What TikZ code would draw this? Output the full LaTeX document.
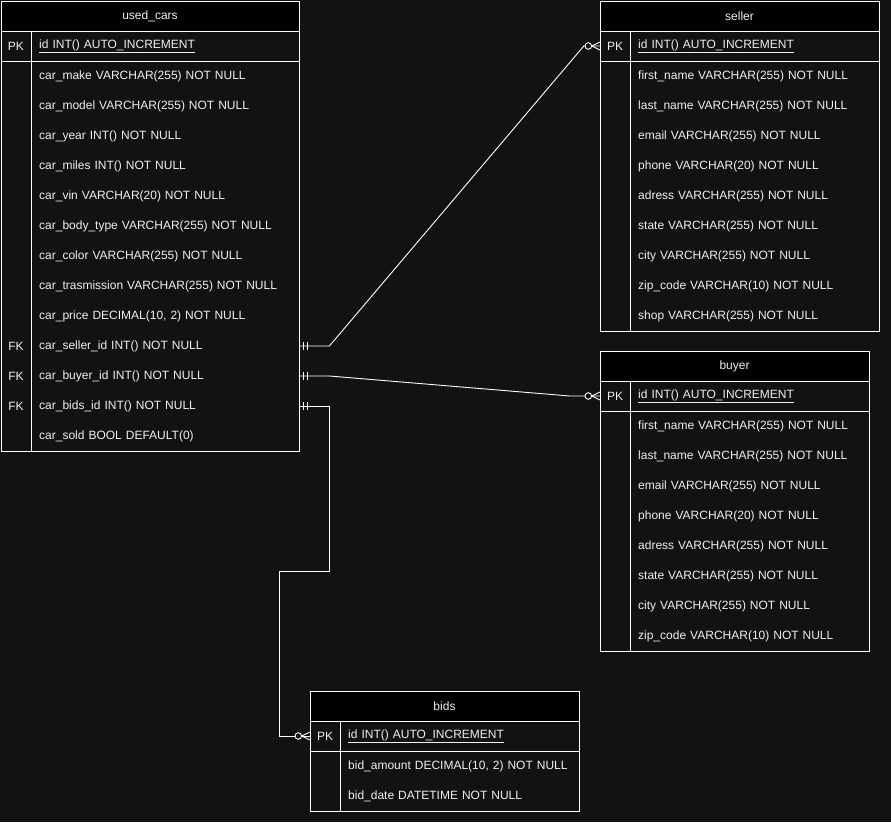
\documentclass[tikz,border=0pt]{standalone}
\usepackage{fontspec}
\setmainfont{Liberation Sans}
\usetikzlibrary{calc}

\definecolor{canvas}{HTML}{121212}
\definecolor{ink}{HTML}{F0F0F0}

\tikzset{
  line/.style={draw=white, line width=1pt},
  link/.style={draw=white, line width=0.9pt},
  hdr/.style={line, fill=black, text=ink, inner sep=0pt, minimum height=30pt,
    font=\fontsize{12}{14}\selectfont},
  field/.style={text=ink, anchor=west, inner xsep=8pt, inner ysep=0pt,
    minimum height=30pt, align=left, font=\fontsize{12}{14}\selectfont},
  key/.style={text=ink, inner sep=0pt, minimum width=30pt, minimum height=30pt,
    font=\fontsize{12}{14}\selectfont},
}

% table: id, left, top, width, title, primary key, fields
\newcommand{\ertable}[7]{%
  \pgfmathsetmacro\fw{#4-46}
  \node[hdr, minimum width=#4pt] (#1) at ({#2+#4/2},{#3+15}) {#5};
  \node[key] (#1-key) at (#2+15,#3+45) {PK};
  \node[field, text width=\fw pt] (#1-pk) at (#2+30,#3+45) {\underline{#6}};
  \foreach \txt [count=\i] in {#7} {
    \node[field, text width=\fw pt] (#1-\i) at (#2+30,{#3+45+30*\i}) {\txt};
    \xdef\nrows{\i}
  }
  \draw[line] (#2,#3+30) rectangle ({#2+#4},{#3+60+30*\nrows});
  \draw[line] (#2,#3+60) -- ++(#4,0);
  \draw[line] (#2+30,#3+30) -- (#2+30,{#3+60+30*\nrows});
}
% one and only one
\newcommand{\mandone}[1]{%
  \draw[link] ([xshift=4pt]#1) ++(0,-4) -- ++(0,8)
              ([xshift=8pt]#1) ++(0,-4) -- ++(0,8);}
% zero or many
\newcommand{\zeromany}[1]{%
  \draw[link] ([xshift=-8pt]#1) -- ([yshift=4pt]#1)
              ([xshift=-8pt]#1) -- ([yshift=-4pt]#1);
  \draw[link, fill=canvas] ([xshift=-11.5pt]#1) circle[radius=3.3pt];}

\begin{document}
\begin{tikzpicture}[x=1pt, y=-1pt]
  \fill[canvas] (0,0) rectangle (891,822);
  \useasboundingbox (0,0) rectangle (891,822);

  \ertable{uc}{1}{1}{298}{used\_cars}{id INT() AUTO\_INCREMENT}{
    car\_make VARCHAR(255) NOT NULL, car\_model VARCHAR(255) NOT NULL,
    car\_year INT() NOT NULL, car\_miles INT() NOT NULL,
    car\_vin VARCHAR(20) NOT NULL, car\_body\_type VARCHAR(255) NOT NULL,
    car\_color VARCHAR(255) NOT NULL, car\_trasmission VARCHAR(255) NOT NULL,
    {car\_price DECIMAL(10, 2) NOT NULL}, car\_seller\_id INT() NOT NULL,
    car\_buyer\_id INT() NOT NULL, car\_bids\_id INT() NOT NULL,
    car\_sold BOOL DEFAULT(0)}
  \foreach \i in {10,11,12}
    \node[key] (uc-fk\i) at (16,{46+30*\i}) {FK};

  \ertable{se}{600}{1}{279}{seller}{id INT() AUTO\_INCREMENT}{
    first\_name VARCHAR(255) NOT NULL, last\_name VARCHAR(255) NOT NULL,
    email VARCHAR(255) NOT NULL, phone VARCHAR(20) NOT NULL,
    adress VARCHAR(255) NOT NULL, state VARCHAR(255) NOT NULL,
    city VARCHAR(255) NOT NULL, zip\_code VARCHAR(10) NOT NULL,
    shop VARCHAR(255) NOT NULL}

  \ertable{bu}{600}{351}{269}{buyer}{id INT() AUTO\_INCREMENT}{
    first\_name VARCHAR(255) NOT NULL, last\_name VARCHAR(255) NOT NULL,
    email VARCHAR(255) NOT NULL, phone VARCHAR(20) NOT NULL,
    adress VARCHAR(255) NOT NULL, state VARCHAR(255) NOT NULL,
    city VARCHAR(255) NOT NULL, zip\_code VARCHAR(10) NOT NULL}

  \ertable{bi}{310}{691}{269}{bids}{id INT() AUTO\_INCREMENT}{
    {bid\_amount DECIMAL(10, 2) NOT NULL}, bid\_date DATETIME NOT NULL}

  % relations
  \draw[link] (uc-10.east) -- ++(30,0) -- ([xshift=-16pt]se-key.west) -- (se-key.west);
  \draw[link] (uc-11.east) -- ++(30,0) -- ([xshift=-30pt]bu-key.west) -- (bu-key.west);
  \draw[link] (uc-12.east) -- ++(30,0) -- ++(0,165) -| ([xshift=-30pt]bi-key.west) -- (bi-key.west);

  \mandone{uc-10.east}
  \mandone{uc-11.east}
  \mandone{uc-12.east}
  \zeromany{se-key.west}
  \zeromany{bu-key.west}
  \zeromany{bi-key.west}
\end{tikzpicture}
\end{document}
